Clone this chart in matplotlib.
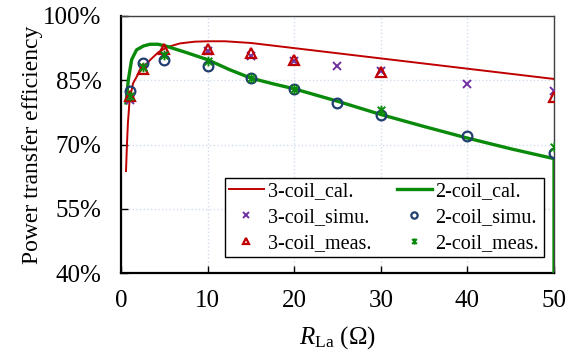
import matplotlib
matplotlib.use("Agg")
import matplotlib.pyplot as plt
from matplotlib.path import Path
from matplotlib.ticker import PercentFormatter

plt.rcParams['font.family'] = ['Liberation Serif', 'DejaVu Serif']
plt.rcParams['mathtext.fontset'] = 'custom'
plt.rcParams['mathtext.rm'] = 'Liberation Serif'
plt.rcParams['mathtext.it'] = 'Liberation Serif:italic'

# 3-coil calculated curve (R_La in ohm, efficiency in %)
cal3_x = [0.58, 0.7, 0.8, 1.0, 1.4, 2.0, 2.6, 3.4, 4.3, 5.3, 6.8, 8.5, 10, 12, 15,
          20, 25, 30, 35, 40, 45, 50]
cal3_y = [63.8, 70.5, 75.0, 80.5, 84.3, 86.5, 88.0, 89.8, 91.5, 92.7, 93.6, 94.0, 94.1,
          94.1, 93.7, 92.5, 91.3, 90.1, 88.9, 87.7, 86.5, 85.3]

# 2-coil calculated curve (ends with a drop at the right edge)
cal2_x = [0.58, 0.85, 1.23, 1.8, 2.6, 3.35, 4.3, 5.3, 7.5, 10, 12.5, 15, 17.5, 20,
          25, 30, 35, 40, 45, 50, 50]
cal2_y = [79.7, 85.1, 89.8, 92.1, 93.0, 93.4, 93.4, 92.9, 91.5, 89.8, 87.5, 85.5,
          84.2, 83.0, 80.1, 77.0, 74.2, 71.5, 69.0, 66.7, 40.0]

# simulated points
simu_x = [1, 2.5, 5, 10, 15, 20, 25, 30, 40, 50]
simu3_y = [80.5, 88.1, 91.0, 91.8, 90.6, 89.5, 88.3, 87.2, 84.2, 82.5]
simu2_y = [82.5, 89.0, 89.7, 88.3, 85.5, 82.9, 79.8, 77.0, 72.0, 67.9]

# measured points
meas_x = [1, 2.5, 5, 10, 15, 20, 30, 50]
meas3_y = [81.4, 87.6, 92.2, 92.4, 91.4, 89.8, 87.0, 81.2]
meas2_y = [81.4, 88.0, 91.0, 89.5, 85.5, 83.0, 78.0, 69.3]

# asterisk marker: X with a vertical bar
star = Path([(-1, -1), (1, 1), (-1, 1), (1, -1), (0, -1.3), (0, 1.3)],
            [Path.MOVETO, Path.LINETO, Path.MOVETO, Path.LINETO, Path.MOVETO, Path.LINETO])

fig = plt.figure(figsize=(5.78, 3.53), dpi=100)
ax = fig.add_axes([0.2093, 0.2266, 0.7492, 0.7281])

red = '#C00000'
green = '#0A8A0A'
purple = '#7030A0'
navy = '#203E70'

h1, = ax.plot(cal3_x, cal3_y, color=red, lw=1.4, label='3-coil_cal.', zorder=3)
h4, = ax.plot(cal2_x, cal2_y, color=green, lw=2.4, label='2-coil_cal.', zorder=3)
h2, = ax.plot(simu_x, simu3_y, ls='none', marker='x', ms=6, mew=1.4, color=purple,
              label='3-coil_simu.', zorder=4)
h5, = ax.plot(simu_x, simu2_y, ls='none', marker='o', ms=7, mew=1.6, mfc='none',
              color=navy, label='2-coil_simu.', zorder=4)
h3, = ax.plot(meas_x, meas3_y, ls='none', marker='^', ms=7, mew=1.6, mfc='none',
              color=red, label='3-coil_meas.', zorder=5)
h6, = ax.plot(meas_x, meas2_y, ls='none', marker=star, ms=7, mew=1.4, color=green,
              label='2-coil_meas.', zorder=5)

ax.set_xlim(0, 50)
ax.set_ylim(40, 100)
ax.set_xticks([0, 10, 20, 30, 40, 50])
ax.set_yticks([40, 55, 70, 85, 100])
ax.yaxis.set_major_formatter(PercentFormatter(xmax=100, decimals=0))
ax.tick_params(direction='in', length=5, width=1, labelsize=18)
ax.tick_params(axis='x', pad=12)
ax.tick_params(axis='y', pad=14)
ax.grid(True, ls=':', color='#D2DEEC', lw=1)

for side in ['left', 'bottom']:
    ax.spines[side].set_linewidth(1.6)
    ax.spines[side].set_color('black')
for side in ['top', 'right']:
    ax.spines[side].set_linewidth(1.0)
    ax.spines[side].set_color('#404040')

ax.set_ylabel('Power transfer efficiency', fontsize=17, labelpad=0)
ax.set_xlabel(r'$R_{\mathrm{La}}$ (Ω)', fontsize=18, labelpad=9)

leg = ax.legend(handles=[h1, h2, h3, h4, h5, h6], ncol=2, loc='lower right',
                bbox_to_anchor=(0.976, 0.062), borderaxespad=0, fontsize=14.5,
                frameon=True, fancybox=False, framealpha=1, edgecolor='black',
                handlelength=1.7, handletextpad=0.2, columnspacing=1.3,
                labelspacing=0.33, borderpad=0.22, markerscale=0.65)
leg.get_frame().set_linewidth(1.0)

fig.savefig('out.png', dpi=100)
